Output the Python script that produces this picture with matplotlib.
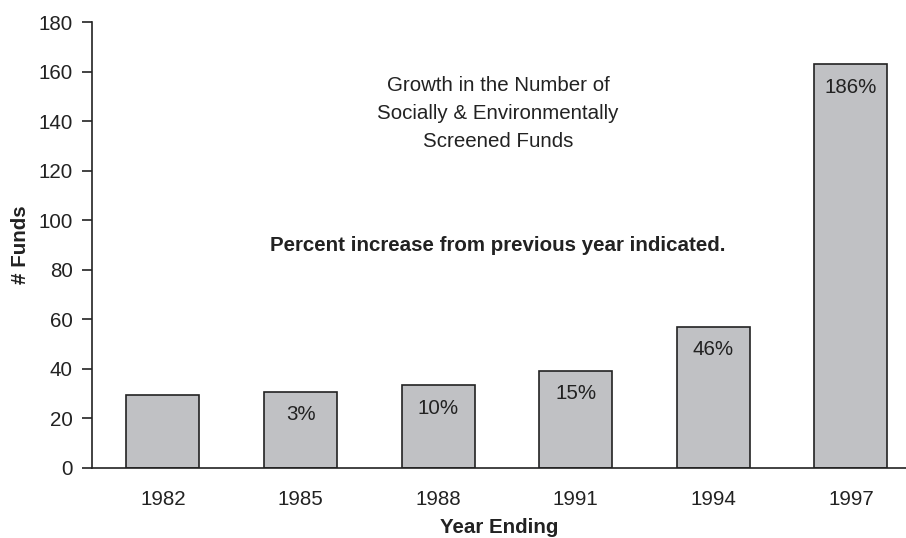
import matplotlib.pyplot as plt
import matplotlib

matplotlib.rcParams["font.family"] = ["Liberation Sans", "DejaVu Sans"]

years = ['1982', '1985', '1988', '1991', '1994', '1997']
funds = [29.5, 30.5, 33.2, 39, 56.8, 163]
pct = ['', '3%', '10%', '15%', '46%', '186%']

fs = 14.8
fig = plt.figure(figsize=(9.06, 5.38), dpi=100)
ax = fig.add_axes([0.1015, 0.131, 0.8985, 0.828])

x = range(len(years))
bars = ax.bar(x, funds, width=0.53, color='#c0c1c4', edgecolor='#222222', linewidth=1.2)

for b, p in zip(bars, pct):
    if p:
        ax.annotate(p, (b.get_x() + b.get_width() / 2, b.get_height()),
                    xytext=(0, -16.5), textcoords='offset points',
                    ha='center', va='center', fontsize=fs, color='#222222')

ax.set_xlim(-0.516, 5.4)
ax.set_ylim(0, 180)
ax.set_yticks(range(0, 181, 20))
ax.set_xticks(list(x))
ax.set_xticklabels(years)
ax.tick_params(axis='y', length=7, width=1.2, labelsize=fs, colors='#222222', pad=7)
ax.tick_params(axis='x', length=0, labelsize=fs, colors='#222222', pad=16)

for s in ['top', 'right']:
    ax.spines[s].set_visible(False)
for s in ['left', 'bottom']:
    ax.spines[s].set_color('#222222')
    ax.spines[s].set_linewidth(1.2)

ax.set_ylabel('# Funds', fontsize=fs, fontweight='bold', color='#222222', labelpad=6)
ax.set_xlabel('Year Ending', fontsize=fs, fontweight='bold', color='#222222', labelpad=7)

ax.text(0.499, 0.795, 'Growth in the Number of\nSocially & Environmentally\nScreened Funds',
        transform=ax.transAxes, ha='center', va='center', fontsize=fs,
        color='#222222', linespacing=1.6)
ax.text(0.498, 0.498, 'Percent increase from previous year indicated.',
        transform=ax.transAxes, ha='center', va='center', fontsize=fs,
        fontweight='bold', color='#222222')

plt.savefig('out.png', dpi=100)
